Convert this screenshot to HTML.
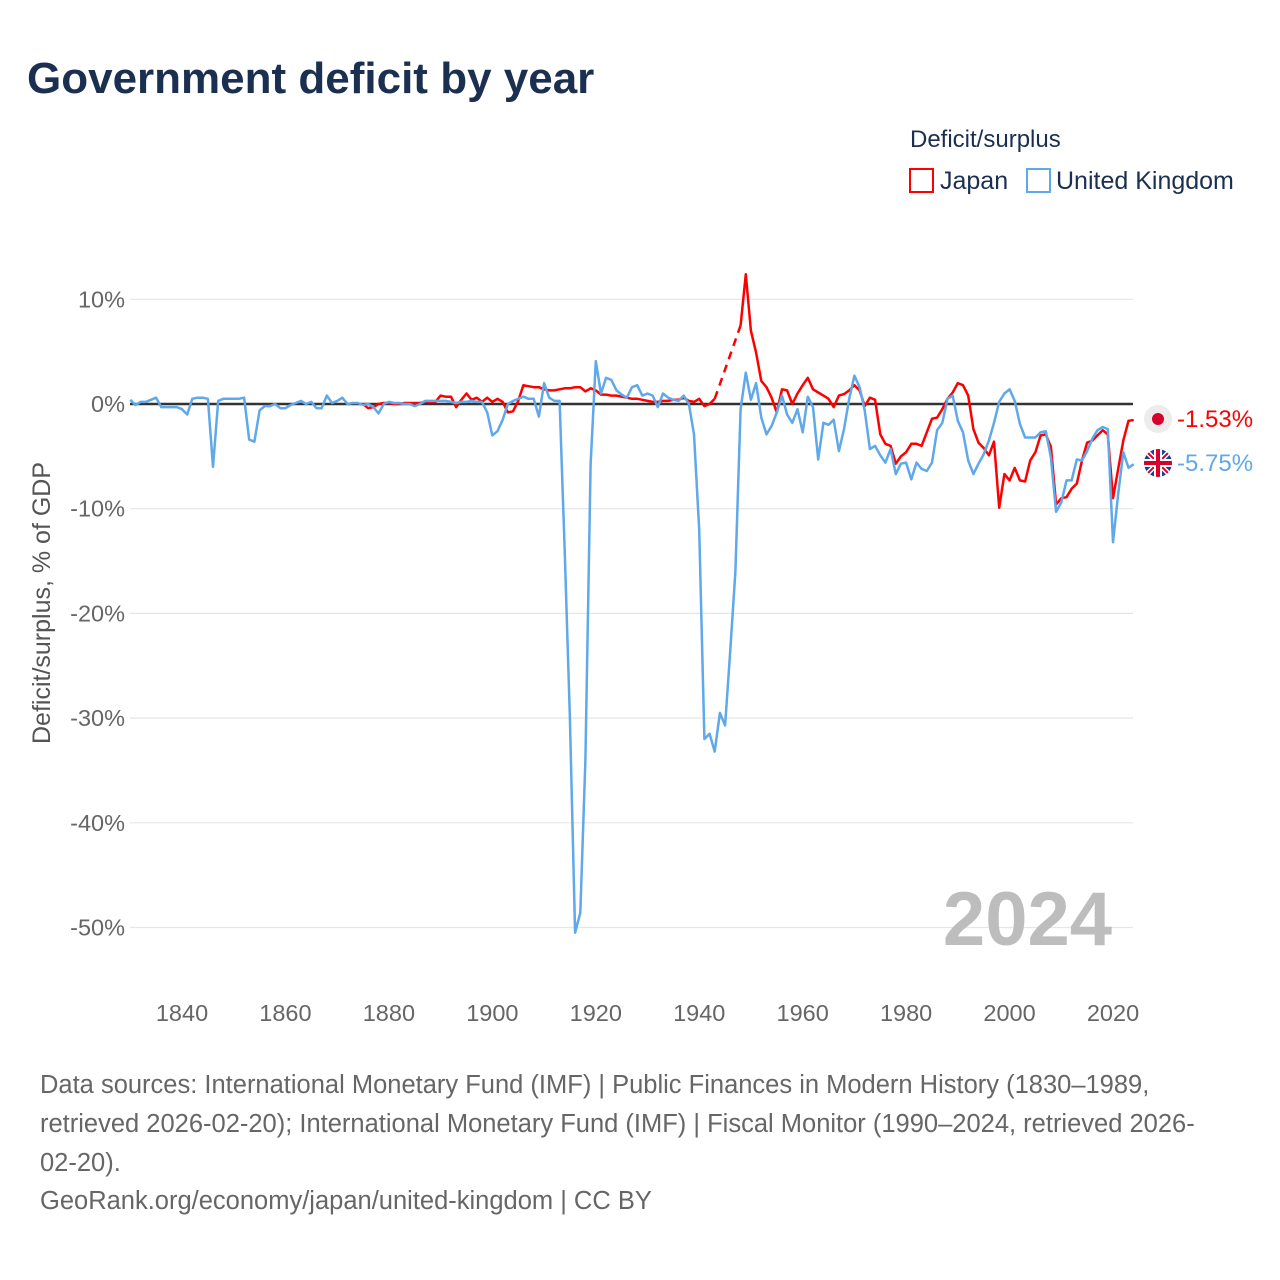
<!DOCTYPE html>
<html><head><meta charset="utf-8">
<style>
body{margin:0;background:#fff;font-family:"Liberation Sans",sans-serif;}
#wrap{position:relative;width:1280px;height:1280px;overflow:hidden;}
</style></head>
<body>
<div id="wrap">
<svg id="chart" width="1280" height="1280" xmlns="http://www.w3.org/2000/svg">
<text x="27" y="93" font-size="44" font-weight="bold" fill="#1b2f50">Government deficit by year</text>
<text x="910" y="147" font-size="24" fill="#1b2f50">Deficit/surplus</text>
<g>
<rect x="910" y="169" width="23" height="23" fill="none" stroke="#ff0000" stroke-width="2"/>
<text x="940" y="189" font-size="25" fill="#1b2f50">Japan</text></g>
<g>
<rect x="1027" y="169" width="23" height="23" fill="none" stroke="#5fa8ea" stroke-width="2"/>
<text x="1056" y="189" font-size="25" fill="#1b2f50">United Kingdom</text></g>
<text transform="translate(50,603) rotate(-90)" text-anchor="middle" font-size="25" fill="#555">Deficit/surplus, % of GDP</text>
<g id="grid"></g><g id="yt"></g><g id="xt"></g>
<text x="1112" y="945" text-anchor="end" font-size="76" font-weight="bold" fill="#bdbdbd">2024</text>
<g id="series"></g>
<g>
<circle cx="1158" cy="419" r="14" fill="#ececec"/><circle cx="1158" cy="419" r="6" fill="#d7002d"/>
<text x="1177" y="427" font-size="24" fill="#ff0000">-1.53%</text></g>
<g>
<clipPath id="fc"><circle cx="1158" cy="463" r="14"/></clipPath>
<g clip-path="url(#fc)"><rect x="1144" y="449" width="28" height="28" fill="#1c3f94"/>
<path d="M1144 449L1172 477M1172 449L1144 477" stroke="#fff" stroke-width="5"/>
<path d="M1144 449L1172 477M1172 449L1144 477" stroke="#d7002d" stroke-width="2"/>
<path d="M1158 449V477M1144 463H1172" stroke="#fff" stroke-width="8"/>
<path d="M1158 449V477M1144 463H1172" stroke="#d7002d" stroke-width="4"/></g>
<text x="1177" y="471" font-size="24" fill="#5fa8ea">-5.75%</text></g>
<g font-size="25.5" fill="#666">
<text x="40" y="1093">Data sources: International Monetary Fund (IMF) | Public Finances in Modern History (1830–1989,</text>
<text x="40" y="1132">retrieved 2026-02-20); International Monetary Fund (IMF) | Fiscal Monitor (1990–2024, retrieved 2026-</text>
<text x="40" y="1171">02-20).</text>
<text x="40" y="1209">GeoRank.org/economy/japan/united-kingdom | CC BY</text></g>
</svg>
</div>
<script>
const yTicks=[10,0,-10,-20,-30,-40,-50];
const xTicks=[1840,1860,1880,1900,1920,1940,1960,1980,2000,2020];
const ukStartYear=1830;
const ukValues=[0.4,-0.1,0.2,0.2,0.4,0.6,-0.3,-0.3,-0.3,-0.3,-0.5,-1.0,0.5,0.6,0.6,0.5,-6.0,0.3,0.5,0.5,
0.5,0.5,0.6,-3.4,-3.6,-0.6,-0.2,-0.2,0,-0.4,-0.4,-0.1,0.1,0.3,0,0.2,-0.4,-0.4,0.8,0.1,
0.3,0.6,0,0.1,0.1,-0.1,0,-0.3,-0.9,0,0.2,0.1,0.1,0,0,-0.2,0,0.3,0.3,0.3,
0.3,0.3,0.2,0.1,0.2,0.2,0.3,0.2,0.2,-0.8,-3.0,-2.6,-1.5,0,0.3,0.5,0.7,0.5,0.5,-1.2,
2.0,0.6,0.3,0.3,-14,-30,-50.5,-48.6,-34,-5.8,4.1,1.0,2.5,2.3,1.3,0.9,0.6,1.6,1.8,0.8,
1.0,0.8,-0.3,1.0,0.6,0.4,0.3,0.8,0,-2.9,-12,-32,-31.5,-33.2,-29.5,-30.7,-23.5,-16,-0.5,3.0,
0.4,2.0,-1.3,-2.9,-2.1,-0.8,0.8,-1.0,-1.8,-0.5,-2.7,0.7,-0.3,-5.3,-1.8,-2.0,-1.5,-4.5,-2.4,0.5,
2.7,1.6,-0.6,-4.3,-4.0,-4.9,-5.6,-4.3,-6.7,-5.7,-5.6,-7.2,-5.6,-6.2,-6.4,-5.6,-2.5,-1.8,0.5,0.8,
-1.6,-2.7,-5.4,-6.7,-5.7,-4.8,-3.5,-1.8,0.2,1.0,1.4,0.3,-1.9,-3.2,-3.2,-3.2,-2.7,-2.6,-5.1,-10.3,
-9.4,-7.3,-7.3,-5.3,-5.4,-4.5,-3.3,-2.5,-2.2,-2.4,-13.2,-8.6,-4.6,-6.1,-5.75];
const jpStartYear=1875;
const jpValues=[0,-0.4,-0.3,0,0.1,0.1,0,0,0.1,0.1,0.1,0.1,0.2,0.2,0.2,
0.8,0.7,0.7,-0.3,0.4,1.0,0.4,0.6,0.2,0.6,0.2,0.5,0.2,-0.8,-0.7,0.3,1.8,1.7,1.6,1.6,
1.4,1.3,1.3,1.4,1.5,1.5,1.6,1.6,1.2,1.5,1.3,0.9,0.9,0.8,0.8,0.7,0.6,0.5,0.5,0.4,
0.3,0.2,0.2,0.3,0.3,0.4,0.4,0.6,0.3,0.2,0.5,-0.2,0,0.5,null,null,null,null,7.5,12.4,
7.0,4.9,2.2,1.6,0.6,-0.8,1.4,1.3,0,1.0,1.8,2.5,1.4,1.1,0.8,0.5,-0.3,0.8,0.95,1.3,
1.8,1.3,-0.2,0.6,0.4,-2.9,-3.8,-4.0,-5.7,-5.0,-4.6,-3.8,-3.8,-4.0,-2.7,-1.4,-1.3,-0.5,0.5,1.1,
2.0,1.8,0.8,-2.4,-3.7,-4.2,-4.9,-3.6,-9.9,-6.7,-7.3,-6.1,-7.3,-7.4,-5.4,-4.6,-3.0,-2.9,-4.1,-9.6,
-9.0,-8.9,-8.1,-7.6,-5.4,-3.7,-3.5,-3.0,-2.5,-2.9,-9.0,-6.2,-3.5,-1.6,-1.53];
const NS="http://www.w3.org/2000/svg";
function X(yr){return 182+(yr-1840)*(1113-182)/180;}
function Y(v){return 404-v*10.47;}
function mk(tag,attrs,parent){const e=document.createElementNS(NS,tag);for(const k in attrs)e.setAttribute(k,attrs[k]);parent.appendChild(e);return e;}
const grid=document.getElementById('grid'),yt=document.getElementById('yt'),xt=document.getElementById('xt'),ser=document.getElementById('series');
yTicks.forEach(t=>{
 const l=mk('line',{x1:130,x2:1133,y1:Y(t),y2:Y(t),stroke:t===0?'#333':'#e6e6e6','stroke-width':t===0?2.5:1.2},t===0?ser:grid);
 
 
 const tx=mk('text',{x:125,y:Y(t)+8,'text-anchor':'end','font-size':23.5,fill:'#666'},yt);
 tx.textContent=t+'%';
 
 
});
xTicks.forEach(t=>{
 const tx=mk('text',{x:X(t),y:1021,'text-anchor':'middle','font-size':23.5,fill:'#666'},xt);
 tx.textContent=t;
 
 
});
function draw(start,vals,color,name){
 let segs=[],cur=[];
 vals.forEach((v,i)=>{if(v===null){if(cur.length)segs.push(cur);cur=[];}else cur.push([X(start+i),Y(v)]);});
 if(cur.length)segs.push(cur);
 segs.forEach(s=>{
  const p=mk('path',{d:'M'+s.map(q=>q[0].toFixed(1)+' '+q[1].toFixed(1)).join('L'),fill:'none',stroke:color,'stroke-width':2.5,'stroke-linejoin':'round'},ser);
  
  
 });
 for(let i=1;i<vals.length;i++){
  if(vals[i]===null&&vals[i-1]!==null){let j=i;while(vals[j]===null)j++;
   const d=mk('path',{d:`M${X(start+i-1)} ${Y(vals[i-1])}L${X(start+j)} ${Y(vals[j])}`,fill:'none',stroke:color,'stroke-width':2.5,'stroke-dasharray':'8 6'},ser);
   
   
  }
 }
}
draw(jpStartYear,jpValues,'#ff0000','japan');
draw(ukStartYear,ukValues,'#5fa8ea','uk');
</script>
</body></html>
